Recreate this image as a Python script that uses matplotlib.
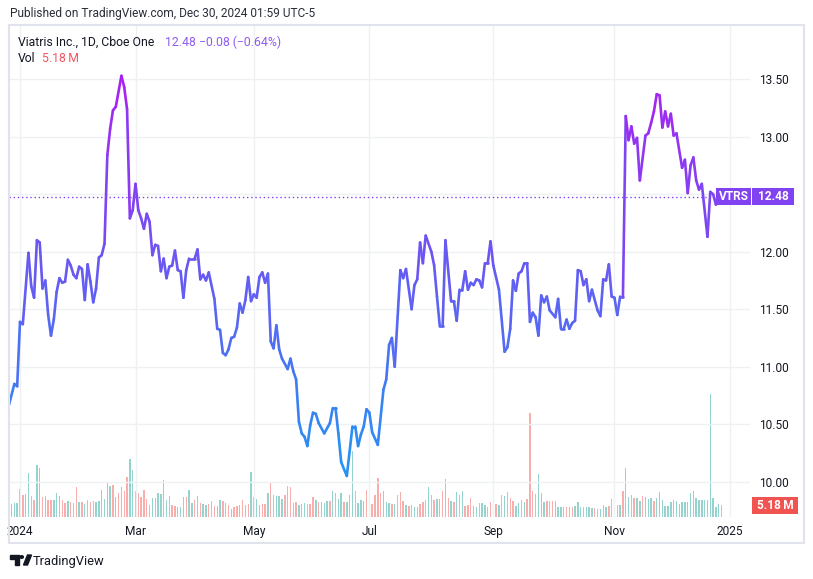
import numpy as np
import matplotlib
matplotlib.use("Agg")
import matplotlib.pyplot as plt
from matplotlib.collections import LineCollection
from matplotlib.colors import LinearSegmentedColormap, Normalize
from matplotlib.patches import Rectangle, Polygon, Circle

plt.rcParams['font.family'] = ['Roboto', 'DejaVu Sans']

# ---------------- data ----------------
# trading-day index (0 = 2 Jan 2024) and closing price at the line's vertices
price_idx = [-4, -2, -1, 0, 1, 3, 4, 5, 6, 7, 8, 9, 10, 11, 12, 13, 14, 15, 16, 17, 18, 19, 20,
             21, 22, 23, 24, 25, 26, 27, 28, 29, 30, 31, 32, 33, 34, 36, 37, 38, 39, 40, 41, 42,
             43, 44, 45, 46, 47, 48, 49, 50, 51, 52, 53, 54, 55, 56, 57, 58, 59, 60, 62, 63, 64,
             65, 66, 67, 69, 70, 71, 72, 73, 74, 75, 76, 77, 78, 79, 80, 81, 82, 83, 84, 85, 86,
             87, 88, 89, 90, 91, 92, 93, 95, 96, 97, 98, 99, 100, 101, 102, 103, 104, 105, 106,
             108, 110, 111, 112, 113, 114, 116, 118, 119, 120, 121, 122, 123, 124, 125, 127, 129,
             130, 131, 132, 133, 135, 136, 137, 139, 140, 141, 142, 143, 144, 146, 147, 148, 149,
             150, 151, 153, 154, 155, 156, 157, 158, 159, 160, 161, 162, 163, 164, 165, 166, 167,
             168, 170, 172, 173, 174, 175, 176, 177, 178, 179, 180, 181, 182, 183, 184, 185, 186,
             187, 188, 190, 191, 192, 193, 194, 195, 196, 197, 198, 199, 200, 201, 202, 203, 205,
             206, 207, 208, 209, 210, 211, 212, 213, 214, 215, 216, 217, 218, 219, 220, 222, 223,
             224, 225, 226, 227, 228, 229, 230, 231, 232, 233, 235, 236, 237, 238, 239, 240, 241,
             242, 244, 245, 246, 247, 248, 249]
price_close = [10.66, 10.85, 10.83, 11.39, 11.37, 11.99, 11.70, 11.60, 12.10, 12.08, 11.68, 11.75,
               11.45, 11.27, 11.41, 11.65, 11.77, 11.73, 11.74, 11.93, 11.88, 11.80, 11.77, 11.87,
               11.85, 11.58, 11.89, 11.74, 11.56, 11.68, 11.95, 11.97, 12.07, 12.84, 13.07, 13.23,
               13.26, 13.53, 13.43, 13.24, 12.29, 12.36, 12.59, 12.36, 12.29, 12.20, 12.33, 12.26,
               11.97, 12.06, 12.05, 11.83, 11.94, 11.77, 11.87, 11.88, 12.01, 11.84, 11.83, 11.60,
               11.84, 11.94, 11.94, 12.02, 11.76, 11.80, 11.75, 11.82, 11.59, 11.33, 11.32, 11.12,
               11.10, 11.15, 11.25, 11.26, 11.34, 11.55, 11.47, 11.58, 11.78, 11.57, 11.63, 11.60,
               11.78, 11.82, 11.73, 11.81, 11.22, 11.16, 11.36, 11.15, 11.07, 10.98, 11.07, 10.96,
               10.89, 10.52, 10.42, 10.39, 10.31, 10.49, 10.60, 10.59, 10.51, 10.42, 10.51, 10.64,
               10.64, 10.42, 10.17, 10.05, 10.48, 10.48, 10.31, 10.41, 10.48, 10.63, 10.60, 10.43,
               10.32, 10.80, 10.89, 11.19, 11.25, 11.00, 11.84, 11.77, 11.85, 11.50, 11.71, 11.76,
               12.08, 11.90, 12.14, 12.00, 11.88, 11.61, 11.35, 11.35, 12.10, 11.57, 11.57, 11.40,
               11.67, 11.67, 11.83, 11.67, 11.73, 11.71, 11.76, 11.75, 11.69, 11.90, 11.90, 12.09,
               11.88, 11.67, 11.13, 11.17, 11.33, 11.75, 11.66, 11.81, 11.83, 11.90, 11.90, 11.39,
               11.47, 11.43, 11.27, 11.62, 11.56, 11.61, 11.49, 11.43, 11.59, 11.33, 11.33, 11.41,
               11.33, 11.38, 11.40, 11.84, 11.83, 11.71, 11.76, 11.57, 11.67, 11.49, 11.44, 11.76,
               11.75, 11.89, 11.61, 11.60, 11.45, 11.61, 11.61, 13.18, 12.97, 13.09, 12.94, 12.99,
               12.62, 13.01, 13.03, 13.12, 13.22, 13.37, 13.36, 13.08, 13.22, 13.09, 13.20, 13.01,
               13.03, 12.73, 12.80, 12.51, 12.75, 12.82, 12.62, 12.54, 12.59, 12.13, 12.52, 12.50,
               12.41, 12.54, 12.48]

# daily volume (millions), trading-day index -3 .. 249
volume_m = [5.6, 5.9, 5.9, 12.0, 9.5, 9.9, 18.9, 9.1, 7.3, 22.3, 21.2, 8.5, 9.0, 7.2, 7.2, 7.2,
            10.2, 9.2, 7.3, 6.0, 6.8, 6.5, 5.9, 12.8, 6.3, 6.3, 5.6, 7.2, 6.3, 6.8, 6.5, 7.1,
            11.5, 7.6, 14.5, 13.5, 13.7, 8.6, 10.2, 12.8, 11.1, 17.4, 24.9, 20.2, 11.1, 10.5,
            8.5, 11.5, 7.6, 5.0, 8.1, 8.1, 10.5, 9.9, 15.8, 7.2, 9.1, 5.0, 4.8, 4.3, 4.3, 8.6,
            8.8, 11.5, 6.0, 7.3, 9.0, 6.0, 5.8, 5.0, 5.8, 6.8, 4.8, 4.9, 7.3, 6.8, 6.0, 5.0, 3.3,
            4.3, 4.8, 5.2, 7.2, 5.0, 5.8, 19.3, 8.6, 7.9, 5.2, 5.8, 5.8, 10.2, 14.5, 9.4, 9.1,
            9.1, 7.6, 9.4, 13.4, 12.8, 6.2, 6.5, 5.0, 5.6, 5.9, 5.6, 5.5, 8.5, 7.2, 6.5, 6.3,
            6.0, 6.9, 7.1, 11.1, 10.2, 7.8, 10.5, 6.5, 6.5, 9.6, 28.5, 11.1, 6.0, 7.3, 7.1, 11.5,
            7.1, 5.6, 9.6, 16.7, 10.5, 11.1, 6.6, 6.2, 5.8, 5.6, 9.4,
            10.8, 6.8, 5.3, 4.6, 5.3, 4.2, 4.2, 5.8, 6.3, 7.2, 12.8, 9.6, 7.2, 7.9, 7.6, 11.1,
            16.3, 8.1, 6.9, 6.5, 10.6, 9.4, 11.1, 4.9, 5.3, 8.1, 4.7, 4.5, 5.9, 5.9, 5.3, 4.3,
            6.3, 6.5, 5.6, 5.3, 9.4, 8.9, 10.6, 8.1, 6.8, 4.6, 6.0, 7.3, 6.6, 7.6, 44.9, 11.1,
            9.8, 18.4, 10.2, 6.5, 6.8, 6.8, 6.8, 6.8, 4.5, 4.3, 4.2, 4.2, 4.5, 4.2, 4.6, 6.3,
            4.2, 4.2, 4.5, 4.2, 3.7, 3.9, 3.6, 3.3, 5.0, 4.5, 4.7, 7.6, 5.0, 5.0, 5.0, 11.1,
            21.0, 8.6, 9.6, 8.1, 8.1, 6.8, 8.9, 8.6, 7.6, 8.2, 7.1, 8.1, 10.8, 7.2, 4.6, 4.6,
            6.3, 7.2, 6.8, 5.6, 6.3, 6.3, 6.3, 10.2, 11.1, 8.1, 7.3, 7.2, 7.5, 7.5, 53.0, 8.1,
            4.2, 5.8, 5.18]
volume_dir = ("gggg" "rggrrggrgrrgggrrgrr" "rgrgrrrggggggrgrrrrggrrrrrrgrggggrrrgggrggrgrggrrrgg"
              "rrrgrrgrgrgrggrrgrrgggrrrrrgggrrrgrgggrgrggrgggrgggr")
volume_dir2 = ("grrrrgggrgrrrgrrgrrrrgrrggrgrgrgrgrrrggrggrrrrgrgrrrggrgrrrrgggrrrgggrr"
               "grgggrgggrrgrgrrgrgrggrrggrgggr")

month_ticks = [0, 41, 83, 124, 168, 211, 252]
month_labels = ["2024", "Mar", "May", "Jul", "Sep", "Nov", "2025"]
price_ticks = [10.0, 10.5, 11.0, 11.5, 12.0, 12.5, 13.0, 13.5]

last_price = 12.48
last_vol = 5.18

# ---------------- figure ----------------
W, H = 813, 579
fig = plt.figure(figsize=(W / 100, H / 100), dpi=100)
fig.patch.set_facecolor("white")


def fx(px):
    return px / W


def fy(py):
    return 1 - py / H


rect = [fx(9), fy(517), fx(750) - fx(9), fy(26) - fy(517)]
axv = fig.add_axes(rect)
ax = fig.add_axes(rect)
ax.set_facecolor("none")

x0, x1 = -3.9, 259.1
y0, y1 = 9.693, 13.963
for a in (ax, axv):
    a.set_xlim(x0, x1)
    for s in a.spines.values():
        s.set_visible(False)
ax.set_ylim(y0, y1)
axv.set_ylim(0, 212)
axv.set_xticks([])
axv.set_yticks([])

# volume
dirs = (volume_dir + volume_dir2)
n = len(volume_m)
dirs = (dirs + "g" * n)[:n]
vol_idx = np.arange(-3, -3 + n)
up_c, dn_c = "#95D4CE", "#F7AEAC"
vcols = [up_c if d == "g" else dn_c for d in dirs]
vcols[-1] = dn_c
axv.bar(vol_idx, volume_m, width=0.5, color=vcols, linewidth=0)

# grid
ax.set_yticks(price_ticks)
ax.set_yticklabels([f"{v:.2f}" for v in price_ticks])
ax.set_xticks(month_ticks)
ax.set_xticklabels(month_labels)
ax.grid(True, color="#EEF0F4", lw=1)
ax.set_axisbelow(True)
ax.yaxis.tick_right()
ax.tick_params(axis="y", length=0, pad=6.5, labelsize=8.6, labelcolor="#131722")
ax.tick_params(axis="x", length=0, pad=5.5, labelsize=8.6, labelcolor="#131722")

# gradient price line
cmap = LinearSegmentedColormap.from_list("tv", ["#2196F3", "#AB1FF2"])
norm = Normalize(10.05, 13.53)
px = np.array(price_idx, float)
py = np.array(price_close, float)
pts = np.column_stack([px, py]).reshape(-1, 1, 2)
segs = np.concatenate([pts[:-1], pts[1:]], axis=1)
mid = (py[:-1] + py[1:]) / 2
lc = LineCollection(segs, colors=cmap(norm(mid)), linewidths=1.9,
                    capstyle="round", joinstyle="round", zorder=3)
ax.add_collection(lc)

label_col = cmap(norm(last_price))
ax.axhline(last_price, color=label_col, ls=(0, (1, 2)), lw=1, zorder=2)

# labels on the price scale
fig.canvas.draw()
yp = H - ax.transData.transform((0, last_price))[1]
yv = H - axv.transData.transform((0, last_vol))[1]


def box(xa, xb, yc, h, color, text):
    fig.add_artist(Rectangle((fx(xa), fy(yc + h / 2)), fx(xb) - fx(xa), h / H,
                             transform=fig.transFigure, facecolor=color, edgecolor="none",
                             clip_on=False, zorder=10))
    fig.text(fx((xa + xb) / 2), fy(yc), text, color="white", fontsize=8.6, fontweight="bold",
             ha="center", va="center", zorder=11)


box(716, 751, yp, 17, label_col, "VTRS")
box(752, 794, yp, 17, label_col, f"{last_price:.2f}")
box(752, 798, yv, 17, "#F05350", "5.18\u2009M")

# frame
fig.add_artist(Rectangle((fx(9), fy(543)), fx(804) - fx(9), fy(25) - fy(543),
                         transform=fig.transFigure, fill=False, edgecolor="#E0E3EB",
                         lw=1.5, zorder=5))

# header
fig.text(fx(10), fy(13), "Published on TradingView.com, Dec 30, 2024 01:59 UTC-5",
         fontsize=8.6, color="#2A2E39", ha="left", va="center")
fig.text(fx(18), fy(42), "Viatris Inc., 1D, Cboe One", fontsize=8.8, color="#131722",
         ha="left", va="center")
fig.text(fx(165), fy(42), "12.48", fontsize=8.8, color="#8F5CF0", ha="left", va="center")
fig.text(fx(199), fy(42), "\u22120.08 (\u22120.64%)", fontsize=8.8, color="#8F5CF0",
         ha="left", va="center")
fig.text(fx(18), fy(59), "Vol", fontsize=8.8, color="#131722", ha="left", va="center")
fig.text(fx(42), fy(59), "5.18\u2009M", fontsize=8.8, color="#F7525F", ha="left", va="center")

# footer logo + text
lc_ = "#131722"
fig.add_artist(Polygon([(fx(10), fy(555)), (fx(18.5), fy(555)), (fx(18.5), fy(565)),
                        (fx(14.8), fy(565)), (fx(14.8), fy(558.5)), (fx(10), fy(558.5))],
                       closed=True, transform=fig.transFigure, color=lc_))
fig.add_artist(Circle((fx(21.6), fy(557)), 1.8 / W, transform=fig.transFigure, color=lc_))
fig.add_artist(Polygon([(fx(23.5), fy(565)), (fx(27.5), fy(565)), (fx(31.5), fy(555)),
                        (fx(27.5), fy(555))], closed=True, transform=fig.transFigure, color=lc_))
fig.text(fx(33), fy(561), "TradingView", fontsize=9.3, color="#131722", ha="left", va="center")

fig.savefig("out.png", dpi=100)
